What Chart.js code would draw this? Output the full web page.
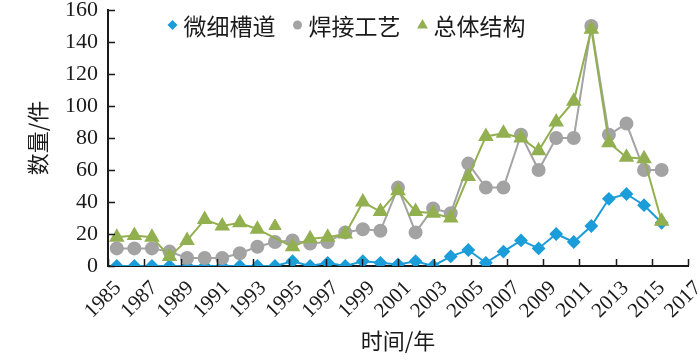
<!DOCTYPE html>
<html>
<head>
<meta charset="utf-8">
<script src="https://cdn.jsdelivr.net/npm/chart.js@4.4.1/dist/chart.umd.min.js"></script>
<style>
  html, body { margin: 0; background: #fff; }
  #wrap { width: 700px; height: 362px; }
</style>
</head>
<body>
<div id="wrap"><canvas id="chart" width="700" height="362"></canvas></div>
<script>
// categories (one per year, 2017 has no data)
const years = [1985, 1986, 1987, 1988, 1989, 1990, 1991, 1992, 1993, 1994, 1995,
    1996, 1997, 1998, 1999, 2000, 2001, 2002, 2003, 2004, 2005, 2006, 2007, 2008,
    2009, 2010, 2011, 2012, 2013, 2014, 2015, 2016, 2017];
const xTickLabels = [1985, 1987, 1989, 1991, 1993, 1995, 1997, 1999, 2001, 2003,
    2005, 2007, 2009, 2011, 2013, 2015, 2017];
const yTickValues = [0, 20, 40, 60, 80, 100, 120, 140, 160];

// series values, 1985 - 2016
const microChannel = [0, 0, 0, 0, 0, 0, 0, 0, 0, 0, 3, 0, 2, 0, 3, 2, 1, 3, 0, 6,
    10, 2, 9, 16, 11, 20, 15, 25, 42, 45, 38, 27];
const welding = [11, 11, 11, 9, 5, 5, 5, 8, 12, 15, 16, 14, 15, 21, 23, 22, 49, 21,
    36, 33, 64, 49, 49, 82, 60, 80, 80, 150, 82, 89, 60, 60];
// the 1994 point of this series sits off its line in the original
const overall = [18, 19, 18, 6, 16, 29, 25, 27, 23, null, 12, 17, 18, 20, 40, 34,
    47, 34, 33, 30, 56, 81, 83, 80, 72, 90, 103, 148, 77, 68, 67, 28];
const overall1994 = 25;

const BLUE = '#1b9dd9';
const GRAY = '#a3a3a3';
const GREEN = '#92b050';
const TEXT = '#1a1a1a';
const SERIF = '"Liberation Serif", "Times New Roman", serif';
const CJK = '"Noto Sans CJK SC", "Liberation Serif", sans-serif';

// draws small marker shapes for the legend
function drawMarker(ctx, style, x, y, r, color) {
    ctx.fillStyle = color;
    ctx.beginPath();
    if (style === 'rectRot') {
        ctx.moveTo(x, y - r); ctx.lineTo(x + r, y); ctx.lineTo(x, y + r); ctx.lineTo(x - r, y);
    } else if (style === 'triangle') {
        ctx.moveTo(x, y - r); ctx.lineTo(x + r * 0.9, y + r * 0.6); ctx.lineTo(x - r * 0.9, y + r * 0.6);
    } else {
        ctx.arc(x, y, r, 0, Math.PI * 2);
    }
    ctx.closePath();
    ctx.fill();
}

// legend drawn inside the plot, like the original
const insideLegend = {
    id: 'insideLegend',
    afterDraw(chart) {
        const ctx = chart.ctx;
        const items = chart.data.datasets.filter(d => d.inLegend);
        ctx.save();
        ctx.font = '23px ' + CJK;
        ctx.textBaseline = 'middle';
        const widths = items.map(d => ctx.measureText(d.label).width);
        const total = widths.reduce((a, b) => a + b, 0) + items.length * 15 + (items.length - 1) * 18;
        let x = 347 - total / 2;
        const y = 25;
        items.forEach((d, i) => {
            drawMarker(ctx, d.pointStyle, x + 4, y, d.legendRadius, d.pointBackgroundColor);
            ctx.fillStyle = TEXT;
            ctx.fillText(d.label, x + 15, y + 1);
            x += 15 + widths[i] + 18;
        });
        ctx.restore();
    }
};

// tick marks pointing into the plot
const innerTicks = {
    id: 'innerTicks',
    afterDraw(chart) {
        const ctx = chart.ctx;
        const area = chart.chartArea;
        const xs = chart.scales.xt;
        const ys = chart.scales.y;
        ctx.save();
        ctx.strokeStyle = TEXT;
        ctx.lineWidth = 1.5;
        ctx.beginPath();
        xs.ticks.forEach(t => {
            const px = Math.round(xs.getPixelForValue(t.value)) + 0.5;
            ctx.moveTo(px, area.bottom);
            ctx.lineTo(px, area.bottom - 7);
        });
        ys.ticks.forEach(t => {
            const py = Math.round(ys.getPixelForValue(t.value)) + 0.5;
            ctx.moveTo(area.left, py);
            ctx.lineTo(area.left + 7, py);
        });
        ctx.stroke();
        ctx.restore();
    }
};

new Chart(document.getElementById('chart'), {
    type: 'line',
    data: {
        labels: years.map(String),
        datasets: [
            {
                label: '微细槽道',
                data: microChannel,
                inLegend: true,
                legendRadius: 5,
                borderColor: BLUE,
                backgroundColor: BLUE,
                pointBackgroundColor: BLUE,
                pointBorderColor: BLUE,
                pointStyle: 'rectRot',
                pointRadius: 5.5,
                borderWidth: 2,
                order: 2
            },
            {
                label: '焊接工艺',
                data: welding,
                inLegend: true,
                legendRadius: 4.5,
                borderColor: GRAY,
                backgroundColor: GRAY,
                pointBackgroundColor: GRAY,
                pointBorderColor: GRAY,
                pointStyle: 'circle',
                pointRadius: 6,
                borderWidth: 2,
                order: 1
            },
            {
                label: '总体结构',
                data: overall,
                inLegend: true,
                legendRadius: 6,
                spanGaps: true,
                borderColor: GREEN,
                backgroundColor: GREEN,
                pointBackgroundColor: GREEN,
                pointBorderColor: GREEN,
                pointStyle: 'triangle',
                pointRadius: 7,
                borderWidth: 2,
                order: 0
            },
            {
                label: '总体结构 1994',
                data: [{ x: '1994', y: overall1994 }],
                showLine: false,
                backgroundColor: GREEN,
                pointBackgroundColor: GREEN,
                pointBorderColor: GREEN,
                pointStyle: 'triangle',
                pointRadius: 7,
                order: 0
            }
        ]
    },
    options: {
        responsive: false,
        animation: false,
        layout: { padding: { left: 24, right: 12, top: 10, bottom: 8 } },
        plugins: {
            legend: { display: false },
            tooltip: { enabled: false }
        },
        scales: {
            x: {
                type: 'category',
                display: false,
                offset: true
            },
            xt: {
                type: 'linear',
                position: 'bottom',
                min: years[0],
                max: years[years.length - 1],
                afterBuildTicks: s => { s.ticks = xTickLabels.map(v => ({ value: v })); },
                afterFit: s => { s.height = 88; s.paddingLeft = 0; s.paddingRight = 0; },
                grid: { drawOnChartArea: false, drawTicks: false },
                border: { display: true, color: TEXT, width: 2 },
                ticks: {
                    autoSkip: false,
                    minRotation: 45,
                    maxRotation: 45,
                    labelOffset: 10,
                    padding: 10,
                    color: TEXT,
                    font: { family: SERIF, size: 21 },
                    callback: v => String(v)
                },
                title: {
                    display: true,
                    text: '时间/年',
                    color: TEXT,
                    font: { family: CJK, size: 22 },
                    padding: { top: 0, bottom: 0 }
                }
            },
            y: {
                min: 0,
                max: 160,
                afterBuildTicks: s => { s.ticks = yTickValues.map(v => ({ value: v })); },
                afterFit: s => { s.width = 84; s.paddingTop = 0; s.paddingBottom = 0; },
                grid: { drawOnChartArea: false, drawTicks: false },
                border: { display: true, color: TEXT, width: 2 },
                ticks: {
                    padding: 10,
                    color: TEXT,
                    font: { family: SERIF, size: 22 }
                },
                title: {
                    display: true,
                    text: '数量/件',
                    color: TEXT,
                    font: { family: CJK, size: 22 },
                    padding: { top: 0, bottom: 5 }
                }
            }
        }
    },
    plugins: [insideLegend, innerTicks]
});
</script>
</body>
</html>
